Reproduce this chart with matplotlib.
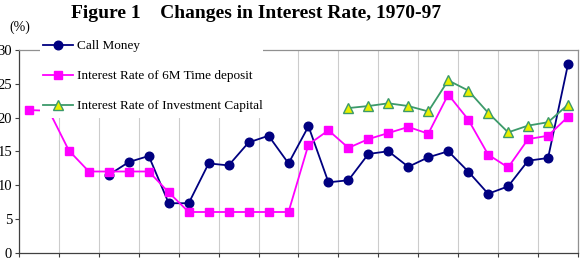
import matplotlib
matplotlib.use("Agg")
import matplotlib.pyplot as plt
from matplotlib.patches import Rectangle
import numpy as np

years = list(range(1970, 1998))
call_money_years = list(range(1974, 1998))
call_money = [11.5, 13.4, 14.3, 7.3, 7.3, 13.2, 12.9, 16.3, 17.3, 13.2, 18.7, 10.4,
              10.7, 14.6, 15.0, 12.7, 14.1, 15.0, 12.0, 8.7, 9.8, 13.6, 14.0, 27.9]
time_deposit = [21.1, 21.0, 15.1, 12.0, 12.0, 12.0, 12.0, 8.9, 6.0, 6.0, 6.0, 6.0, 6.0, 6.0,
                16.0, 18.1, 15.5, 16.8, 17.7, 18.6, 17.6, 23.4, 19.7, 14.5, 12.6, 16.8, 17.3, 20.1]
invest_years = list(range(1986, 1998))
invest_capital = [21.4, 21.7, 22.1, 21.7, 20.9, 25.5, 24.0, 20.7, 17.8, 18.8, 19.3, 21.9]
labels = ["Call Money", "Interest Rate of 6M Time deposit", "Interest Rate of Investment Capital"]
yticks = [0, 5, 10, 15, 20, 25, 30]

W, H = 581, 263
fig = plt.figure(figsize=(W / 100, H / 100), dpi=100)
plt.rcParams['font.family'] = ['Liberation Serif', 'DejaVu Serif']

ax = fig.add_axes([19 / W, 1 - 252.5 / H, (578 - 19) / W, (252.5 - 50) / H])

x0 = years[0]
xa = [y - x0 for y in years]
xc = [y - x0 for y in call_money_years]
xi = [y - x0 for y in invest_years]

l1, = ax.plot(xc, call_money, color='#000080', lw=1.3, marker='o', ms=6.2,
              mfc='#000080', mec='#000080', zorder=3)
l2, = ax.plot(xa, time_deposit, color='#ff00ff', lw=1.3, marker='s', ms=5.8,
              mfc='#ff00ff', mec='#ff00ff', zorder=3)
l3, = ax.plot(xi, invest_capital, color='#3c9a6a', lw=1.3, marker='^', ms=6.5,
              mfc='#e8f000', mec='#3c9a6a', mew=1.0, zorder=3)

ax.set_xlim(-0.5, len(years) - 0.5)
ax.set_ylim(0, 30)
gx = np.arange(-0.5, len(years), 2)
ax.set_xticks(gx)
ax.set_xticklabels([])
ax.set_yticks(yticks)
ax.set_yticklabels([str(v) for v in yticks], fontsize=10.5)
ax.tick_params(axis='x', direction='out', length=3, color='#404040', width=0.8)
ax.tick_params(axis='y', direction='out', length=3, color='#404040', width=0.8, pad=2)
ax.grid(axis='x', color='#cccccc', lw=0.8, zorder=1)
ax.set_axisbelow(True)
for s in ['left', 'bottom']:
    ax.spines[s].set_color('#404040')
    ax.spines[s].set_linewidth(0.9)
for s in ['top', 'right']:
    ax.spines[s].set_color('#909090')
    ax.spines[s].set_linewidth(0.9)

# white legend area masking the plot
rx0 = (40 - 19) / (578 - 19)
rx1 = (263 - 19) / (578 - 19)
ry0 = (252.5 - 118) / 202.5
rect = Rectangle((rx0, ry0), rx1 - rx0, 1.05 - ry0, transform=ax.transAxes,
                 facecolor='white', edgecolor='none', zorder=4, clip_on=False)
ax.add_patch(rect)

leg = fig.legend([l1, l2, l3], labels, loc='upper left',
                 bbox_to_anchor=(43 / W, 1 - 40 / H), frameon=False,
                 fontsize=9.5, handlelength=2.3, handletextpad=0.3,
                 labelspacing=1.35, borderpad=0, borderaxespad=0)
leg.set_zorder(6)

fig.text(256 / W, 1 - 13 / H, "Figure 1    Changes in Interest Rate, 1970-97",
         ha='center', va='center', fontsize=14, fontweight='bold')
fig.text(20 / W, 1 - 27 / H, "(%)", ha='center', va='center', fontsize=10)

fig.savefig("out.png", dpi=100)
